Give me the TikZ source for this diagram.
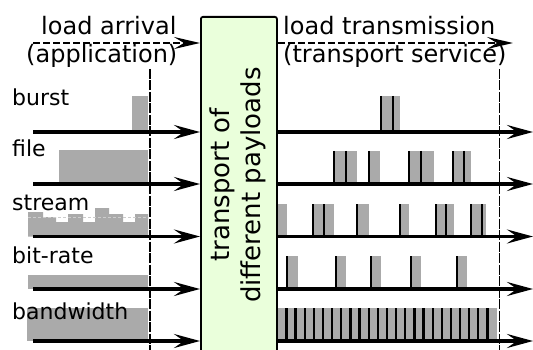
\documentclass[tikz,border=0pt]{standalone}
\usepackage{fontspec}
\setmainfont{DejaVu Sans}
\usetikzlibrary{arrows.meta}

\definecolor{boxgreen}{RGB}{234,255,219}
\definecolor{pktgray}{RGB}{170,170,170}
\definecolor{meangray}{RGB}{205,205,205}

\begin{document}
\begin{tikzpicture}[x=1pt,y=-1pt,
  axis/.style={line width=3.2pt, -{Stealth[length=26pt,width=14pt,inset=10pt]}},
  flow/.style={line width=2.8pt, dash pattern=on 7pt off 3pt, -{Stealth[length=26pt,width=12pt,inset=10pt]}},
  bound/.style={line width=1.5pt, dash pattern=on 10pt off 1.5pt},
  load/.style={fill=pktgray, draw=none},
  edge/.style={line width=2.2pt},
  head/.style={font=\fontsize{24}{29}\selectfont, inner sep=0pt, anchor=base west},
  lbl/.style={font=\fontsize{22}{26}\selectfont, inner sep=0pt, anchor=base west},
]
\useasboundingbox (0,0) rectangle (533,350);

% transport stage in the middle
\node[draw, fill=boxgreen, line width=1.8pt, rounded corners=2pt,
      minimum width=76pt, minimum height=345pt, anchor=north west,
      inner sep=0pt] (carrier) at (200,16) {};
\node[rotate=90, align=center, font=\fontsize{26}{31}\selectfont, inner sep=0pt]
      (payloads) at (237.5,185) {transport of\\different payloads};

% headings
\node[head] (arrival) at (41,35) {load arrival};
\node[head] (application) at (26,63) {(application)};
\node[head] (transmission) at (283,35) {load transmission};
\node[head] (service) at (283,63) {(transport service)};

\coordinate (flowL) at (33,43);
\coordinate (flowR) at (513,43);
\draw[flow] (flowL) -- (carrier.west |- flowL);
\draw[flow] (carrier.east |- flowR) -- (flowR);

% arrival profiles
\fill[load] (132,96) rectangle (148,132);
\fill[load] (59,150) rectangle (148,184);
\fill[load] (28,236.5) -- (28,212) -- (43,212) -- (43,217) -- (56,217) -- (56,222)
  -- (68,222) -- (68,214) -- (83,214) -- (83,222) -- (95,222) -- (95,208)
  -- (109,208) -- (109,214) -- (123,214) -- (123,222) -- (135,222) -- (135,214)
  -- (148,214) -- (148,236.5) -- cycle;
\draw[meangray, line width=1pt, dash pattern=on 3pt off 2pt] (28,217) -- (148,217);
\fill[load] (28,275) rectangle (148,289);
\fill[load] (27,308) rectangle (148,341);

% row labels
\node[lbl] (burst) at (12,106) {burst};
\node[lbl] (file) at (12,157) {file};
\node[lbl] (stream) at (12,210) {stream};
\node[lbl] (bitrate) at (12,263) {bit-rate};
\node[lbl] (bandwidth) at (12,319) {bandwidth};

% transmitted packets
\foreach \x/\w in {381/12,393/7}{
  \fill[load] (\x,96) rectangle ++(\w,36);
  \draw[edge] (\x,96) -- (\x,132);}
\foreach \x/\w in {334/12,346/11,369/11,409/12,421/13,453/11,464/7}{
  \fill[load] (\x,151) rectangle ++(\w,33);
  \draw[edge] (\x,151) -- (\x,184);}
\foreach \x/\w in {277/10,313/10,324/10,357/12,400/9,436/10,446/8,471/11,482/4}{
  \fill[load] (\x,204) rectangle ++(\w,32.5);
  \draw[edge] (\x,204) -- (\x,236.5);}
\foreach \x/\w in {287/11,336/10,371/10,411/10,457/10}{
  \fill[load] (\x,256) rectangle ++(\w,33);
  \draw[edge] (\x,256) -- (\x,289);}
\foreach \i in {0,...,23}{
  \pgfmathsetmacro{\x}{277.3+\i*9.14}
  \fill[load] (\x,308) rectangle ++(9.14,33);
  \draw[edge] (\x,308) -- (\x,341);}

% observation boundaries
\draw[bound] (150,69) -- (150,352);
\draw[bound, line width=1pt] (499,69) -- (499,352);

% time axes of each row
\foreach \n/\y in {a/132,b/184,c/236.5,d/289,e/341}{
  \coordinate (in\n) at (33,\y);
  \coordinate (out\n) at (533,\y);
  \draw[axis] (in\n) -- (carrier.west |- in\n);
  \draw[axis] (carrier.east |- out\n) -- (out\n);
}
\end{tikzpicture}
\end{document}
